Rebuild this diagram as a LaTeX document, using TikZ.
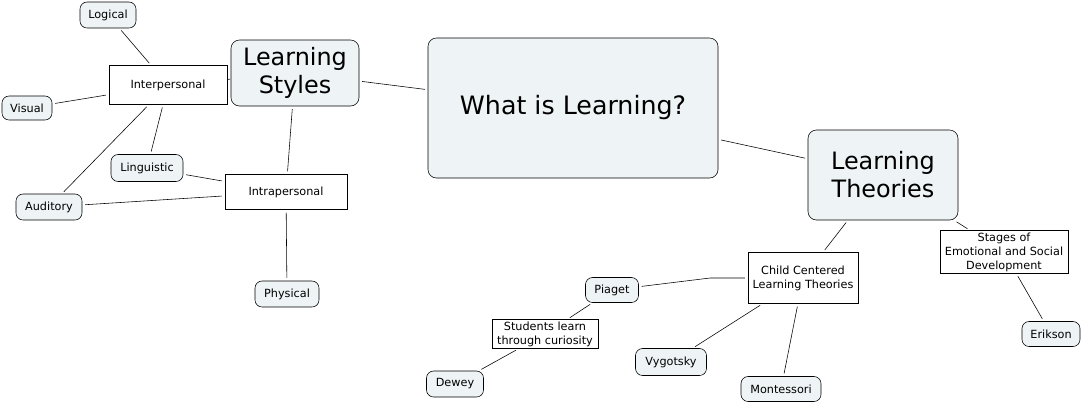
\documentclass[tikz,border=0pt]{standalone}
\usepackage{fontspec}
\setmainfont{DejaVu Sans}
\usepackage{tikz}
\definecolor{boxfill}{HTML}{EEF3F5}
\tikzset{
  topic/.style={draw, rounded corners=6pt, fill=boxfill, align=center, font=\fontsize{17}{20}\selectfont},
  plainbox/.style={draw, fill=white, align=center, font=\fontsize{8}{10}\selectfont},
  leaf/.style={draw, rounded corners=5pt, fill=boxfill, align=center, font=\fontsize{8}{10}\selectfont},
  link/.style={shorten <=2pt, shorten >=2pt}
}
\begin{document}
\begin{tikzpicture}[x=0.025cm, y=-0.025cm]
        \useasboundingbox (0,0) rectangle (1084,404);

        \node [topic, minimum width=290*0.025cm, minimum height=140*0.025cm, font=\fontsize{18}{22}\selectfont] (learn) at (573,108) {What is Learning?};
        \node [topic, minimum width=128*0.025cm, minimum height=66*0.025cm] (styles) at (295,73) {Learning\\Styles};
        \node [topic, minimum width=150*0.025cm, minimum height=90*0.025cm] (theories) at (883,175) {Learning\\Theories};

        \node [plainbox, minimum width=118*0.025cm, minimum height=39*0.025cm] (inter) at (168,85) {Interpersonal};
        \node [plainbox, minimum width=122*0.025cm, minimum height=35*0.025cm] (intra) at (286,192) {Intrapersonal};
        \node [leaf, minimum width=56*0.025cm, minimum height=26*0.025cm] (logical) at (108,15) {Logical};
        \node [leaf, minimum width=50*0.025cm, minimum height=24*0.025cm] (visual) at (27,108) {Visual};
        \node [leaf, minimum width=72*0.025cm, minimum height=27*0.025cm] (linguistic) at (147,168) {Linguistic};
        \node [leaf, minimum width=66*0.025cm, minimum height=26*0.025cm] (auditory) at (49,207) {Auditory};
        \node [leaf, minimum width=64*0.025cm, minimum height=26*0.025cm] (physical) at (287,294) {Physical};

        \node [plainbox, minimum width=109*0.025cm, minimum height=51*0.025cm] (child) at (803,278) {Child Centered\\Learning Theories};
        \node [plainbox, minimum width=128*0.025cm, minimum height=43*0.025cm, inner sep=1pt] (stages) at (1004,252) {Stages of\\Emotional and Social\\Development};
        \node [leaf, minimum width=58*0.025cm, minimum height=25*0.025cm] (erikson) at (1051,334) {Erikson};
        \node [leaf, minimum width=53*0.025cm, minimum height=25*0.025cm] (piaget) at (612,290) {Piaget};
        \node [plainbox, minimum width=106*0.025cm, minimum height=29*0.025cm, inner sep=1pt] (curious) at (545,334) {Students learn\\through curiosity};
        \node [leaf, minimum width=57*0.025cm, minimum height=26*0.025cm] (dewey) at (455,384) {Dewey};
        \node [leaf, minimum width=71*0.025cm, minimum height=27*0.025cm] (vygotsky) at (671,362) {Vygotsky};
        \node [leaf, minimum width=80*0.025cm, minimum height=25*0.025cm] (montessori) at (781,389) {Montessori};

        % main branches
        \draw [link] (learn) -- (styles);
        \draw [link] (learn) -- (theories);
        \draw [link] (styles) -- (inter);
        \draw [link] (styles) -- (intra);

        % styles
        \draw [link] (inter) -- (logical);
        \draw [link] (inter) -- (visual);
        \draw [link] (inter) -- (linguistic);
        \draw [link] (inter) -- (auditory);
        \draw [link] (intra) -- (linguistic);
        \draw [link] (intra) -- (auditory);
        \draw [link] (intra) -- (physical);

        % theories
        \coordinate (bend) at (710,278);
        \draw [link] (theories) -- (child);
        \draw [link] (theories) -- (stages);
        \draw [link] (child) -- (bend) -- (piaget);
        \draw [link] (child) -- (vygotsky);
        \draw [link] (child) -- (montessori);
        \draw [link] (piaget) -- (curious);
        \draw [link] (curious) -- (dewey);
        \draw [link] (stages) -- (erikson);
\end{tikzpicture}
\end{document}
